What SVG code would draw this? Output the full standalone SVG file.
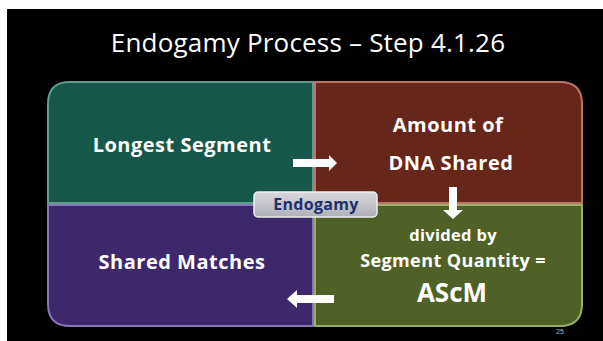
<svg xmlns="http://www.w3.org/2000/svg" width="603" height="341" viewBox="0 0 603 341">
<style>
.q{stroke-width:2}
.t{font-family:"Open Sans","Liberation Sans",sans-serif;font-weight:bold;fill:#ffffff;text-anchor:middle}
.ar{fill:#ffffff}
</style>
<defs>
<linearGradient id="lbl" x1="0" y1="0" x2="0" y2="1">
<stop offset="0" stop-color="#d8d8dd"/>
<stop offset="1" stop-color="#afafb8"/>
</linearGradient>
</defs>
<rect x="0" y="0" width="603" height="341" fill="#ffffff"/>
<rect x="7" y="9" width="596" height="332" fill="#000000"/>
<text x="308" y="52" font-family="Open Sans, Liberation Sans, sans-serif" font-size="26" letter-spacing="0.2" fill="#ffffff" text-anchor="middle">Endogamy Process – Step 4.1.26</text>
<g id="longest">
<path class="q" d="M48 203 V104 Q48 82 70 82 H313 V203 Z" fill="#16574a" stroke="#5e9c8c"/>
<text class="t" x="182" y="152" font-size="20" letter-spacing="0.5">Longest Segment</text>
</g>
<g id="amount">
<path class="q" d="M315 82 H560 Q582 82 582 104 V203 H315 Z" fill="#66261a" stroke="#b87464"/>
<text class="t" x="448" y="132" font-size="20" letter-spacing="0.5">Amount of</text>
<text class="t" x="451" y="170" font-size="20" letter-spacing="0.5">DNA Shared</text>
</g>
<g id="shared">
<path class="q" d="M48 205 H313 V326 H70 Q48 326 48 304 Z" fill="#3d286b" stroke="#8676b6"/>
<text class="t" x="182" y="269" font-size="20" letter-spacing="0.5">Shared Matches</text>
</g>
<g id="ascm">
<path class="q" d="M315 205 H582 V304 Q582 326 560 326 H315 Z" fill="#4f6126" stroke="#9aae6c"/>
<text class="t" x="453" y="241" font-size="16.5" letter-spacing="0.3">divided by</text>
<text class="t" x="453" y="267" font-size="18" letter-spacing="0.4">Segment Quantity =</text>
<text class="t" x="452" y="302" font-size="26">AScM</text>
</g>
<g id="endogamy">
<rect x="254" y="192" width="123" height="25" rx="4" fill="url(#lbl)" stroke="#eeeeee" stroke-width="1.5"/>
<text x="316" y="210" font-family="Open Sans, Liberation Sans, sans-serif" font-weight="bold" font-size="16" letter-spacing="0.3" fill="#1f2f6e" text-anchor="middle">Endogamy</text>
</g>
<g id="connectors">
<path class="ar" d="M293 159 H329 V155 L337 163 L329 171 V167 H293 Z"/>
<path class="ar" d="M449 187 H457 V210 H463 L453 219 L443 210 H449 Z"/>
<path class="ar" d="M334 295 H297 V290 L287 299 L297 308 V303 H334 Z"/>
</g>
<text x="560" y="334" font-family="Liberation Sans, sans-serif" font-size="7" fill="#bbbbbb" text-anchor="middle">25</text>
</svg>
